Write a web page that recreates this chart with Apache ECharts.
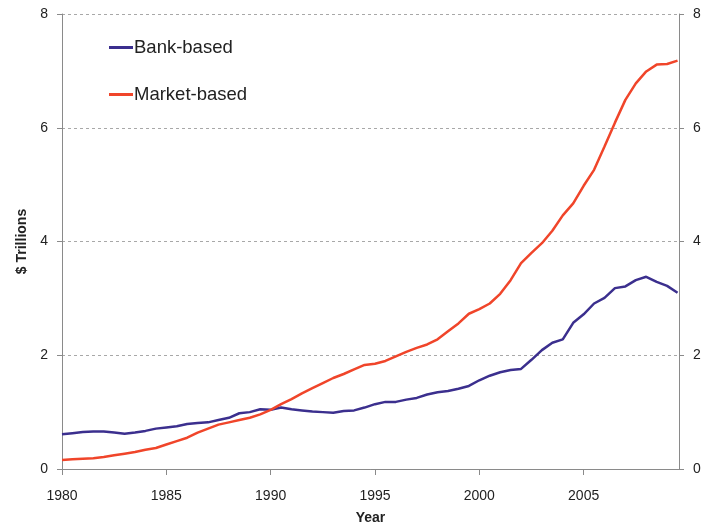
<!DOCTYPE html>
<html>
<head>
<meta charset="utf-8">
<script src="https://cdn.jsdelivr.net/npm/echarts@6/dist/echarts.min.js"></script>
<style>
html, body { margin: 0; padding: 0; background: #fff; }
#chart { width: 709px; height: 530px; }
</style>
</head>
<body>
<div id="chart"></div>
<script>
var years = [
    1980, 1980.5, 1981, 1981.5, 1982, 1982.5, 1983, 1983.5, 1984, 1984.5,
    1985, 1985.5, 1986, 1986.5, 1987, 1987.5, 1988, 1988.5, 1989, 1989.5,
    1990, 1990.5, 1991, 1991.5, 1992, 1992.5, 1993, 1993.5, 1994, 1994.5,
    1995, 1995.5, 1996, 1996.5, 1997, 1997.5, 1998, 1998.5, 1999, 1999.5,
    2000, 2000.5, 2001, 2001.5, 2002, 2002.5, 2003, 2003.5, 2004, 2004.5,
    2005, 2005.5, 2006, 2006.5, 2007, 2007.5, 2008, 2008.5, 2009, 2009.5
];

var bankBased = [
    0.61, 0.63, 0.65, 0.66, 0.66, 0.64, 0.62, 0.64, 0.67, 0.71,
    0.73, 0.75, 0.79, 0.81, 0.82, 0.86, 0.90, 0.98, 1.00, 1.05,
    1.04, 1.08, 1.05, 1.03, 1.01, 1.00, 0.99, 1.02, 1.03, 1.08,
    1.14, 1.18, 1.18, 1.22, 1.25, 1.31, 1.35, 1.37, 1.41, 1.46,
    1.56, 1.64, 1.70, 1.74, 1.76, 1.92, 2.09, 2.22, 2.28, 2.57,
    2.72, 2.91, 3.01, 3.18, 3.21, 3.32, 3.38, 3.29, 3.22, 3.10
];

var marketBased = [
    0.16, 0.17, 0.18, 0.19, 0.21, 0.24, 0.27, 0.30, 0.34, 0.37,
    0.43, 0.49, 0.55, 0.64, 0.71, 0.78, 0.82, 0.86, 0.90, 0.96,
    1.04, 1.14, 1.23, 1.33, 1.42, 1.51, 1.60, 1.67, 1.75, 1.83,
    1.85, 1.90, 1.98, 2.06, 2.13, 2.19, 2.28, 2.42, 2.56, 2.73,
    2.81, 2.91, 3.08, 3.32, 3.62, 3.80, 3.97, 4.19, 4.46, 4.67,
    4.98, 5.26, 5.67, 6.09, 6.49, 6.78, 6.99, 7.11, 7.12, 7.18
];

var yearTicks = [1980, 1985, 1990, 1995, 2000, 2005];

function pairs(vals) {
    return years.map(function (y, i) { return [y, vals[i]]; });
}

var myChart = echarts.init(document.getElementById('chart'));

var labelFont = 'Liberation Sans, Arial, sans-serif';

var yAxisCommon = {
    type: 'value',
    min: 0,
    max: 8,
    interval: 2,
    axisLine: { show: true, lineStyle: { color: '#8a8a8a', width: 1 } },
    axisTick: { show: true, inside: false, length: 5, lineStyle: { color: '#8a8a8a' } },
    axisLabel: { color: '#222', fontSize: 14, fontFamily: labelFont, margin: 14 }
};

var option = {
    animation: false,
    textStyle: { fontFamily: labelFont },
    grid: { left: 62, right: 30, top: 14, bottom: 61, containLabel: false },
    legend: {
        orient: 'vertical',
        left: 104,
        top: 33,
        itemGap: 28,
        itemWidth: 24,
        itemHeight: 3,
        icon: 'rect',
        textStyle: { color: '#222', fontSize: 18.5, fontFamily: labelFont, padding: [0, 0, 0, -4] },
        data: ['Bank-based', 'Market-based']
    },
    xAxis: {
        type: 'value',
        min: 1980,
        max: 2009.57,
        interval: 5,
        name: 'Year',
        nameLocation: 'middle',
        nameGap: 42,
        nameTextStyle: { fontWeight: 'bold', fontSize: 14, color: '#222', fontFamily: labelFont },
        axisLine: { show: true, onZero: false, lineStyle: { color: '#8a8a8a', width: 1 } },
        axisTick: { show: true, inside: false, length: 6, lineStyle: { color: '#8a8a8a' } },
        axisLabel: {
            color: '#222', fontSize: 14, fontFamily: labelFont, margin: 20,
            showMaxLabel: false,
            formatter: function (v) { return yearTicks.indexOf(v) >= 0 ? String(v) : ''; }
        },
        splitLine: { show: false }
    },
    yAxis: [
        Object.assign({}, yAxisCommon, {
            position: 'left',
            name: '$ Trillions',
            nameLocation: 'middle',
            nameGap: 22,
            nameTextStyle: { fontWeight: 'bold', fontSize: 14, color: '#222', fontFamily: labelFont },
            splitLine: { show: true, lineStyle: { color: '#a8a8a8', type: [3, 3], width: 1 } }
        }),
        Object.assign({}, yAxisCommon, {
            position: 'right',
            splitLine: { show: false }
        })
    ],
    series: [
        {
            name: 'Bank-based',
            type: 'line',
            yAxisIndex: 0,
            showSymbol: false,
            data: pairs(bankBased),
            lineStyle: { color: '#3b2f8e', width: 2.5 },
            itemStyle: { color: '#3b2f8e' }
        },
        {
            name: 'Market-based',
            type: 'line',
            yAxisIndex: 0,
            showSymbol: false,
            data: pairs(marketBased),
            lineStyle: { color: '#f0452a', width: 2.5 },
            itemStyle: { color: '#f0452a' }
        }
    ]
};

myChart.setOption(option);
</script>
</body>
</html>
